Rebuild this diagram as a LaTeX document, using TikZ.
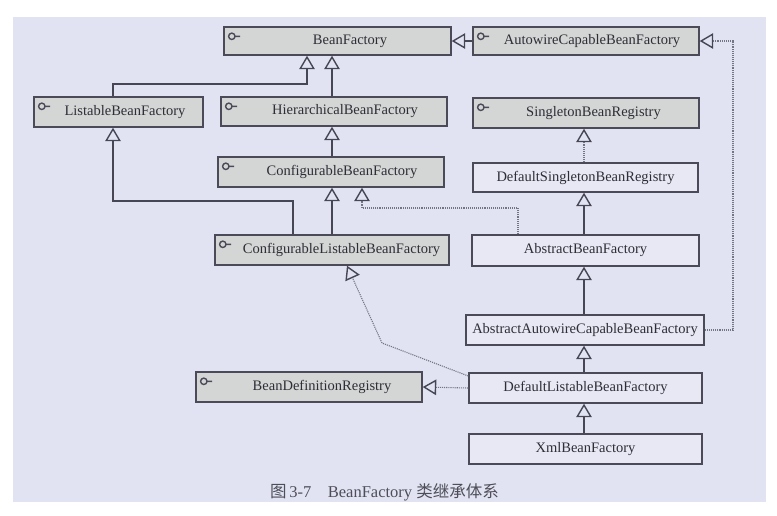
\documentclass[tikz,border=0pt]{standalone}
\usepackage{fontspec}
\setmainfont{Liberation Serif}
\newfontfamily\cjk{Noto Sans CJK SC}
\usetikzlibrary{arrows.meta,calc}
\definecolor{bgc}{HTML}{E1E3F3}
\definecolor{ifc}{HTML}{D4D6D5}
\definecolor{clc}{HTML}{E7E8F4}
\definecolor{bdc}{HTML}{4A4A58}
\definecolor{lnc}{HTML}{464654}
\definecolor{dtc}{HTML}{747484}
\definecolor{txc}{HTML}{2E2E36}
\definecolor{cpc}{HTML}{4E4E58}
\begin{document}
\begin{tikzpicture}[x=1pt,y=-1pt,
  box/.style={draw=bdc, line width=1.4pt, inner sep=0pt, text=txc,
    font=\fontsize{14.5}{16}\selectfont, minimum height=29pt},
  iface/.style={box, fill=ifc},
  cls/.style={box, fill=clc},
  gen/.style={draw=lnc, line width=1.3pt,
    -{Triangle[open, length=13.5pt, width=15.5pt, line width=1.4pt]}},
  real/.style={draw=dtc, line width=1.1pt, densely dotted,
    -{Triangle[open, length=13.5pt, width=15.5pt, line width=1.4pt, color=lnc]}},
  keyic/.style={draw=bdc, line width=1.4pt}]
\useasboundingbox (0,0) rectangle (777,515);
\fill[white] (0,0) rectangle (777,515);
\fill[bgc] (13,17) rectangle (766,502);

\node[iface, minimum width=227pt, minimum height=28pt] (bf) at (337.5,41) {\hspace*{25pt}BeanFactory};
\node[iface, minimum width=226pt, minimum height=28pt] (acbf) at (586,41) {\hspace*{12pt}AutowireCapableBeanFactory};
\node[iface, minimum width=169pt, minimum height=30pt] (lbf) at (118.5,112) {\hspace*{13pt}ListableBeanFactory};
\node[iface, minimum width=226pt] (hbf) at (334,111.5) {\hspace*{22pt}HierarchicalBeanFactory};
\node[iface, minimum width=226pt, minimum height=30pt] (sbr) at (586,113) {\hspace*{15pt}SingletonBeanRegistry};
\node[iface, minimum width=226pt, minimum height=30pt] (cbf) at (331,172) {\hspace*{22pt}ConfigurableBeanFactory};
\node[cls, minimum width=225pt] (dsbr) at (585.5,177.5) {DefaultSingletonBeanRegistry};
\node[iface, minimum width=234pt, minimum height=30pt] (clbf) at (332,250) {\hspace*{19pt}ConfigurableListableBeanFactory};
\node[cls, minimum width=227pt, minimum height=31pt] (abf) at (585.5,250.5) {AbstractBeanFactory};
\node[cls, minimum width=238pt, minimum height=30pt] (aacbf) at (585,330) {AbstractAutowireCapableBeanFactory};
\node[iface, minimum width=226pt, minimum height=30pt] (bdr) at (309,387) {\hspace*{26pt}BeanDefinitionRegistry};
\node[cls, minimum width=233pt, minimum height=30pt] (dlbf) at (585.5,388) {DefaultListableBeanFactory};
\node[cls, minimum width=233pt, minimum height=30pt] (xbf) at (585.5,449) {XmlBeanFactory};

\foreach \n in {bf,acbf,lbf,hbf,sbr,cbf,clbf,bdr}{
  \draw[keyic] ([xshift=8.5pt,yshift=-10pt]\n.north west) circle (3.2pt) ++(3.2pt,0) -- ++(5pt,0);
}

\coordinate (xL) at (113,0);
\coordinate (xB) at (307,0);
\coordinate (xM) at (332,0);
\coordinate (xC) at (293,0);
\coordinate (xD) at (362,0);
\coordinate (xA) at (518,0);
\coordinate (xR) at (584,0);
\coordinate (xF) at (733,0);
\coordinate (xT) at (347,0);
\coordinate (yLB) at (0,84);
\coordinate (yCL) at (0,201);
\coordinate (yAB) at (0,208);
\coordinate (bend) at (382,343);

\draw[gen] (lbf.north -| xL) -- (xL |- yLB) -| (bf.south -| xB);
\draw[gen] (hbf.north -| xM) -- (bf.south -| xM);
\draw[gen] (cbf.north -| xM) -- (hbf.south -| xM);
\draw[gen] (clbf.north -| xM) -- (cbf.south -| xM);
\draw[gen] (clbf.north -| xC) -- (xC |- yCL) -| (lbf.south -| xL);
\draw[real] (abf.north -| xA) -- (xA |- yAB) -| (cbf.south -| xD);
\draw[gen] (acbf.west) -- (bf.east);
\draw[real] (dsbr.north -| xR) -- (sbr.south -| xR);
\draw[gen] (abf.north -| xR) -- (dsbr.south -| xR);
\draw[gen] (aacbf.north -| xR) -- (abf.south -| xR);
\draw[real] (aacbf.east) -- (xF |- aacbf.east) |- (acbf.east);
\draw[gen] (dlbf.north -| xR) -- (aacbf.south -| xR);
\draw[gen] (xbf.north -| xR) -- (dlbf.south -| xR);
\draw[real] (dlbf.west) -- (bdr.east);
\draw[real] ([yshift=12pt]dlbf.west) -- (bend) -- (clbf.south -| xT);

\node[text=cpc, font=\fontsize{16.5}{18}\selectfont] (cap) at (384.5,492)
  {{\cjk 图}\,3-7\hspace{1em}BeanFactory {\cjk 类继承体系}};
\end{tikzpicture}
\end{document}
